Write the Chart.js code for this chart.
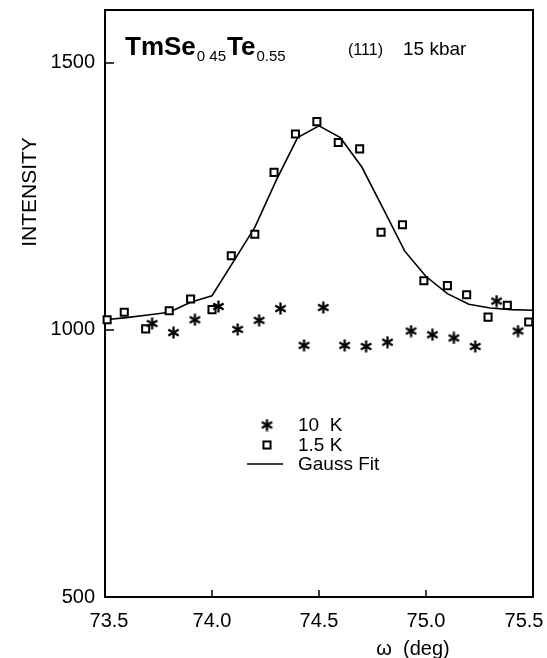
<!DOCTYPE html>
<html>
<head>
<meta charset="utf-8">
<script src="https://cdn.jsdelivr.net/npm/chart.js@4.4.1/dist/chart.umd.min.js"></script>
<style>
  html, body { margin: 0; padding: 0; background: #fff; }
  canvas { display: block; }
</style>
</head>
<body>
<canvas id="chart" width="547" height="658"></canvas>
<script>
// axis ticks
const xTicks = [73.5, 74.0, 74.5, 75.0, 75.5];
const yTicks = [500, 1000, 1500];

// 10 K (asterisks)
const omega10K  = [73.72, 73.82, 73.92, 74.03, 74.12, 74.22, 74.32, 74.43, 74.52, 74.62, 74.72, 74.82, 74.93, 75.03, 75.13, 75.23, 75.33, 75.43];
const counts10K = [1012, 995, 1019, 1044, 1001, 1018, 1040, 971, 1042, 971, 969, 977, 998, 991, 985, 969, 1054, 998];

// 1.5 K (squares)
const omega15K  = [73.51, 73.59, 73.69, 73.80, 73.90, 74.00, 74.09, 74.20, 74.29, 74.39, 74.49, 74.59, 74.69, 74.79, 74.89, 74.99, 75.10, 75.19, 75.29, 75.38, 75.48];
const counts15K = [1019, 1033, 1002, 1036, 1058, 1038, 1139, 1179, 1295, 1367, 1390, 1351, 1339, 1183, 1197, 1092, 1083, 1066, 1024, 1046, 1015];

// Gauss fit
const omegaFit  = [73.5, 73.6, 73.7, 73.8, 73.9, 74.0, 74.1, 74.2, 74.3, 74.4, 74.5, 74.6, 74.7, 74.8, 74.9, 75.0, 75.1, 75.2, 75.3, 75.4, 75.5];
const countsFit = [1019, 1023, 1028, 1033, 1052, 1064, 1128, 1192, 1280, 1360, 1382, 1360, 1305, 1227, 1148, 1100, 1068, 1048, 1041, 1038, 1037];

const FONT = "'Liberation Sans', Arial, Helvetica, sans-serif";

const toPoints = (xs, ys) => xs.map((x, i) => ({ x: x, y: ys[i] }));

// six-armed asterisk marker
function makeAsterisk(size, lw) {
  const c = document.createElement('canvas');
  c.width = c.height = size;
  const g = c.getContext('2d');
  g.strokeStyle = '#000';
  g.lineWidth = lw;
  const m = size / 2, r = size / 2 - 0.5;
  for (let i = 0; i < 3; i++) {
    const a = Math.PI / 2 + i * Math.PI / 3;
    g.beginPath();
    g.moveTo(m + r * Math.cos(a), m + r * Math.sin(a));
    g.lineTo(m - r * Math.cos(a), m - r * Math.sin(a));
    g.stroke();
  }
  return c;
}
const asterisk = makeAsterisk(13, 2.3);

// no extra room for edge labels: the frame is fixed
const noPadding = s => {
  s.paddingLeft = s.paddingRight = s.paddingTop = s.paddingBottom = 0;
};

// frame, inward ticks, texts and legend
const decorations = {
  id: 'decorations',
  beforeDatasetsDraw(chart) {
    const { ctx, chartArea: a, scales } = chart;
    ctx.save();
    ctx.strokeStyle = '#000';
    ctx.lineWidth = 2;
    ctx.strokeRect(a.left, a.top, a.right - a.left, a.bottom - a.top);
    ctx.beginPath();
    xTicks.slice(1, -1).forEach(v => {
      const px = scales.x.getPixelForValue(v);
      ctx.moveTo(px, a.bottom);
      ctx.lineTo(px, a.bottom - 7);
    });
    yTicks.slice(1).forEach(v => {
      const py = scales.y.getPixelForValue(v);
      ctx.moveTo(a.left, py);
      ctx.lineTo(a.left + 9, py);
    });
    ctx.lineWidth = 1.5;
    ctx.stroke();
    ctx.restore();
  },
  afterDraw(chart) {
    const { ctx, chartArea: a, scales } = chart;
    ctx.save();
    ctx.fillStyle = '#000';
    ctx.strokeStyle = '#000';

    // x tick labels, the end ones pulled inside the page
    ctx.font = '20px ' + FONT;
    ctx.textAlign = 'center';
    ctx.textBaseline = 'middle';
    xTicks.forEach((v, i) => {
      const nudge = i === 0 ? 4 : (i === xTicks.length - 1 ? -9 : 0);
      ctx.fillText(v.toFixed(1), scales.x.getPixelForValue(v) + nudge, a.bottom + 24);
    });

    // header
    ctx.textAlign = 'left';
    ctx.textBaseline = 'alphabetic';
    let x = 125;
    ctx.font = 'bold 26px ' + FONT;
    ctx.fillText('TmSe', x, 55); x += ctx.measureText('TmSe').width + 1;
    ctx.font = '15px ' + FONT;
    ctx.fillText('0 45', x, 61); x += ctx.measureText('0 45').width + 1;
    ctx.font = 'bold 26px ' + FONT;
    ctx.fillText('Te', x, 55); x += ctx.measureText('Te').width + 1;
    ctx.font = '15px ' + FONT;
    ctx.fillText('0.55', x, 61);
    ctx.font = '16px ' + FONT;
    ctx.fillText('(111)', 348, 55);
    ctx.font = '19px ' + FONT;
    ctx.fillText('15 kbar', 403, 55);

    // axis titles
    ctx.font = '20px ' + FONT;
    ctx.textAlign = 'center';
    ctx.textBaseline = 'middle';
    ctx.fillText('\u03c9  (deg)', 413, 649);
    ctx.font = '21px ' + FONT;
    ctx.save();
    ctx.translate(30, 192);
    ctx.rotate(-Math.PI / 2);
    ctx.fillText('INTENSITY', 0, 0);
    ctx.restore();

    // legend
    const ds = chart.data.datasets;
    ctx.textAlign = 'left';
    ctx.font = '19px ' + FONT;
    ctx.drawImage(asterisk, 267 - 6.5, 425 - 6.5);
    ctx.fillText(ds[0].label, 298, 426);
    ctx.lineWidth = ds[1].pointBorderWidth;
    const s = ds[1].pointRadius * Math.SQRT1_2;
    ctx.fillStyle = '#fff';
    ctx.fillRect(267 - s, 445 - s, 2 * s, 2 * s);
    ctx.strokeRect(267 - s, 445 - s, 2 * s, 2 * s);
    ctx.fillStyle = '#000';
    ctx.fillText(ds[1].label, 298, 446);
    ctx.lineWidth = ds[2].borderWidth;
    ctx.beginPath();
    ctx.moveTo(247, 464);
    ctx.lineTo(283, 464);
    ctx.stroke();
    ctx.fillText(ds[2].label, 298, 465);
    ctx.restore();
  }
};

new Chart(document.getElementById('chart'), {
  type: 'scatter',
  data: {
    datasets: [
      {
        label: '10  K',
        data: toPoints(omega10K, counts10K),
        pointStyle: asterisk,
        pointRadius: 7,
        showLine: false,
        clip: false
      },
      {
        label: '1.5 K',
        data: toPoints(omega15K, counts15K),
        pointStyle: 'rect',
        pointRadius: 5,
        pointBorderWidth: 2,
        pointBorderColor: '#000',
        pointBackgroundColor: '#fff',
        showLine: false,
        clip: false
      },
      {
        label: 'Gauss Fit',
        data: toPoints(omegaFit, countsFit),
        showLine: true,
        borderColor: '#000',
        borderWidth: 1.6,
        pointRadius: 0,
        tension: 0
      }
    ]
  },
  options: {
    responsive: false,
    animation: false,
    devicePixelRatio: 1,
    layout: { padding: { left: 0, right: 14, top: 10, bottom: 0 } },
    plugins: { legend: { display: false }, tooltip: { enabled: false } },
    scales: {
      x: {
        type: 'linear',
        min: 73.5,
        max: 75.5,
        afterBuildTicks: s => { s.ticks = xTicks.map(v => ({ value: v })); },
        afterFit: s => { s.height = 61; noPadding(s); },
        ticks: { display: false },
        grid: { display: false, drawTicks: false },
        border: { display: false }
      },
      y: {
        type: 'linear',
        min: 500,
        max: 1599,
        afterBuildTicks: s => { s.ticks = yTicks.map(v => ({ value: v })); },
        afterFit: s => { s.width = 105; noPadding(s); },
        ticks: {
          callback: v => String(v),
          font: { size: 20, family: FONT },
          color: '#000',
          padding: 10
        },
        grid: { display: false, drawTicks: false },
        border: { display: false }
      }
    }
  },
  plugins: [decorations]
});
</script>
</body>
</html>
